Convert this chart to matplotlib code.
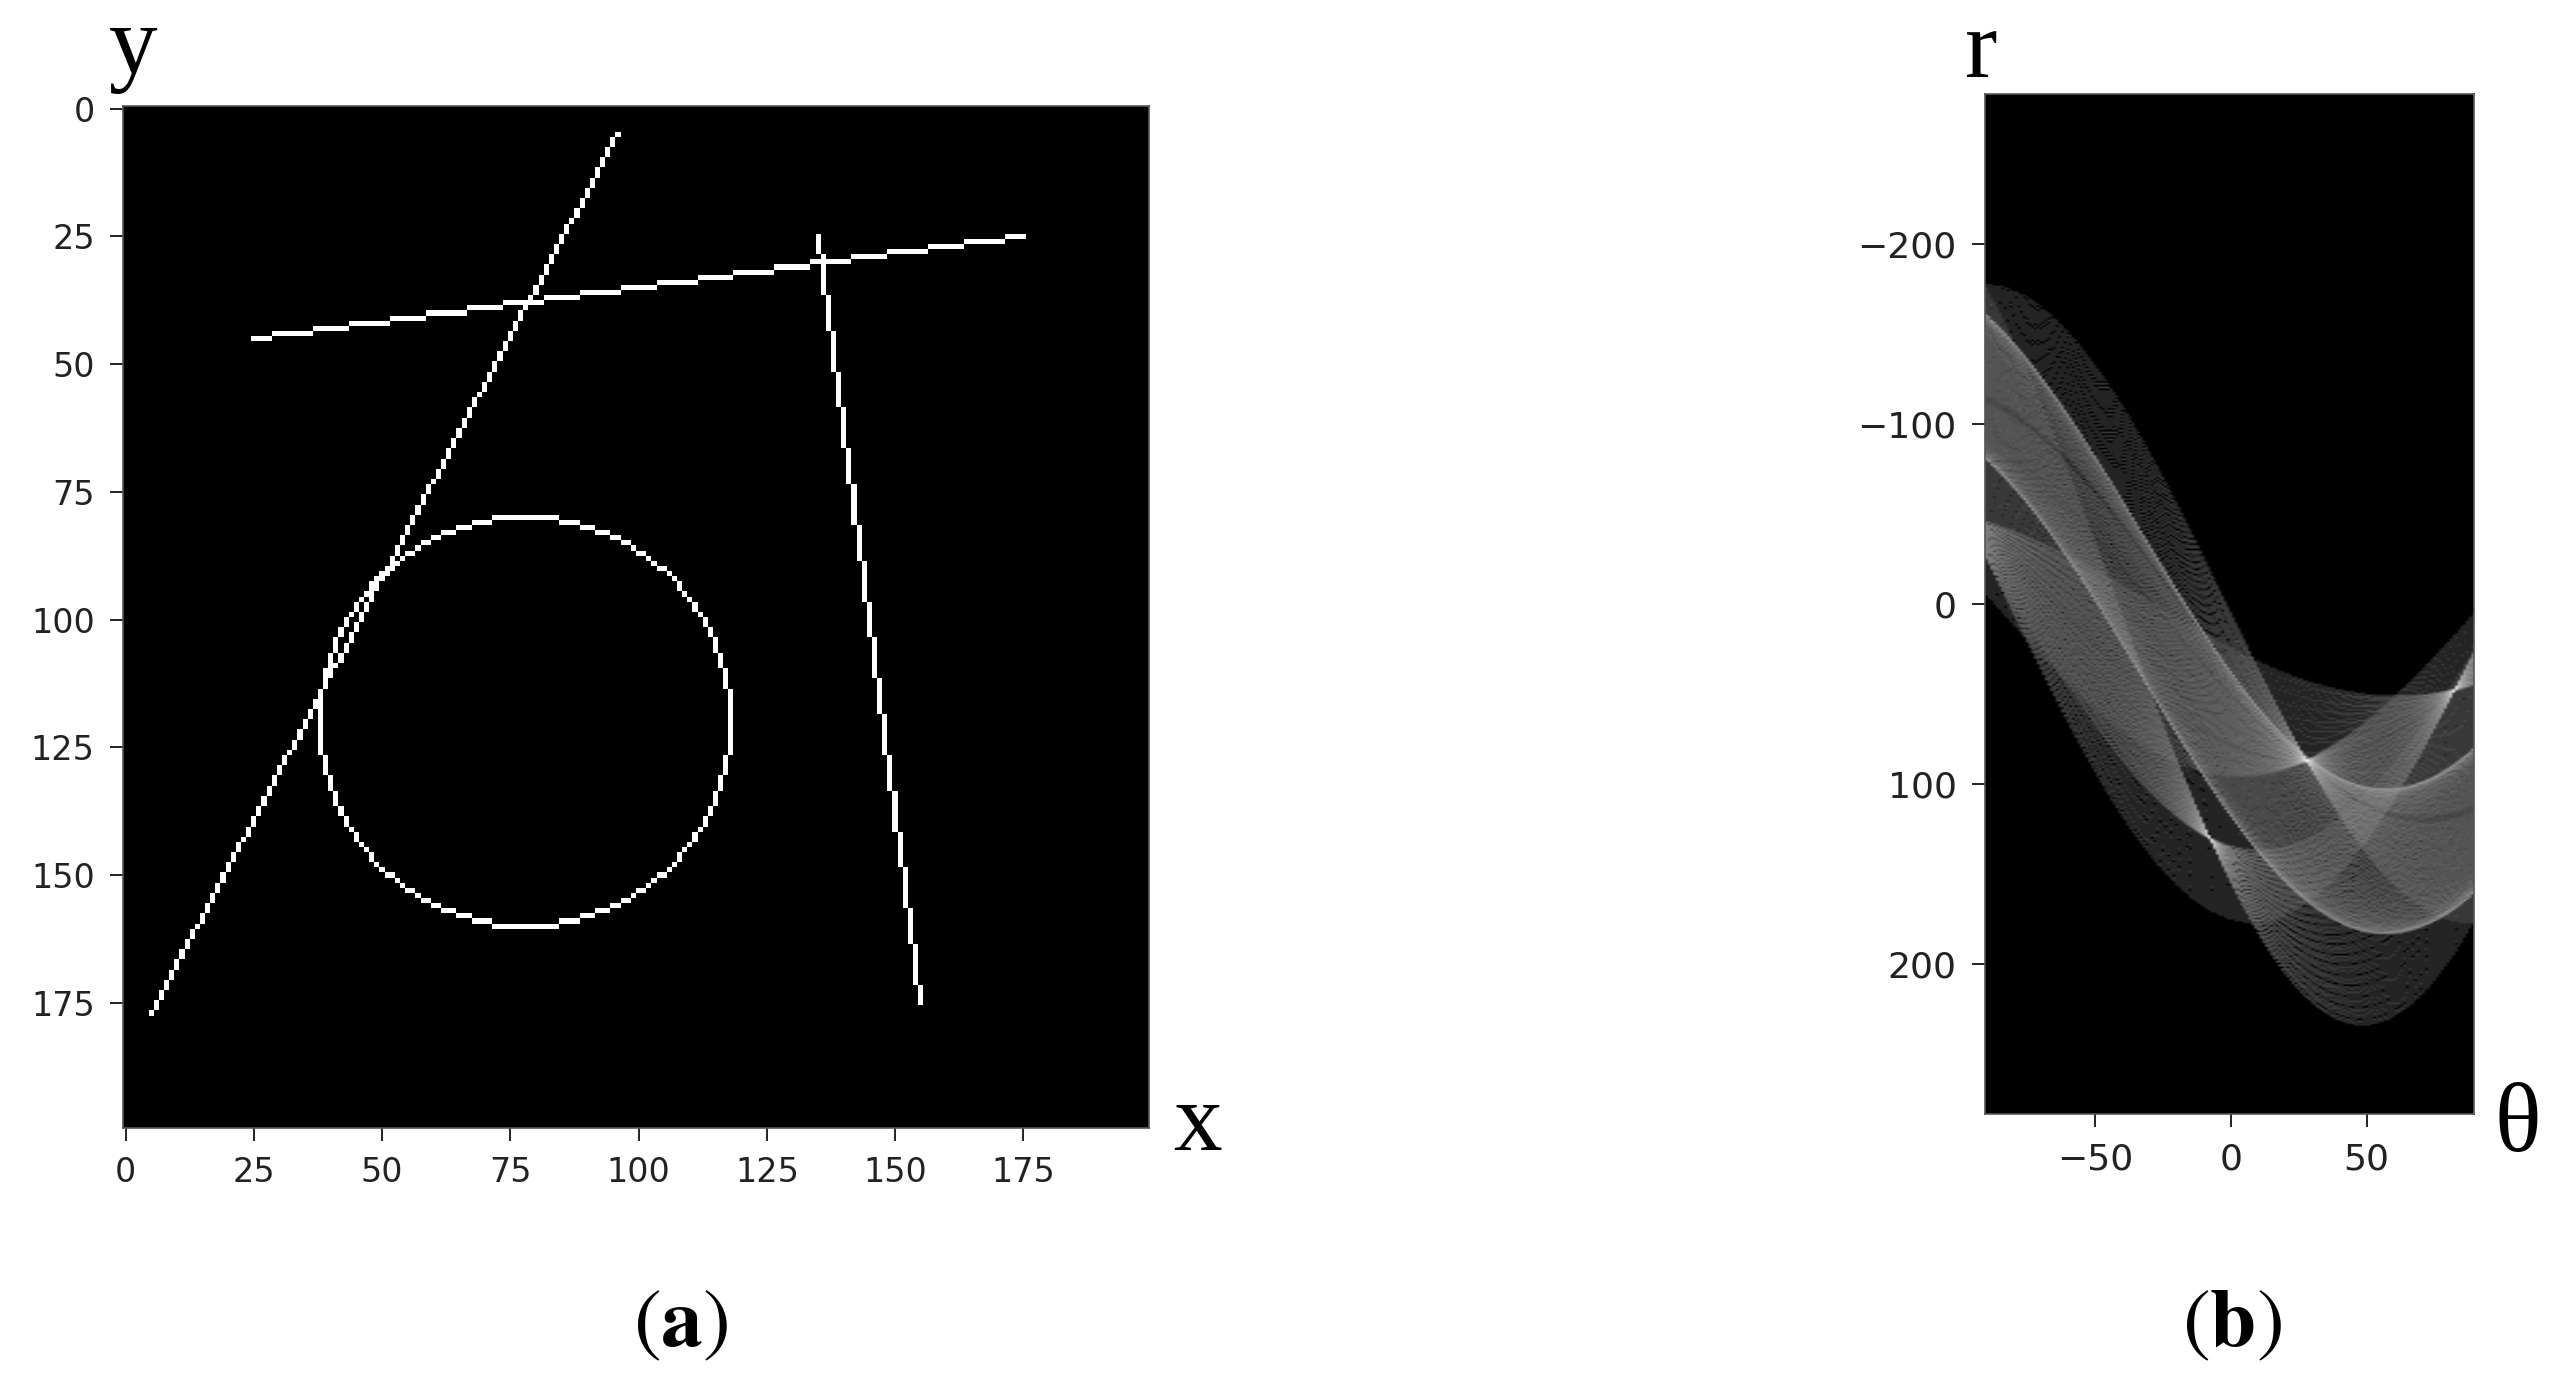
import numpy as np
import matplotlib
matplotlib.use("Agg")
import matplotlib.pyplot as plt

# ---------------- data ----------------
IMG_SIZE = 200
# line segments (row0, col0) -> (row1, col1)
LINE_R0 = [177, 45, 25]
LINE_C0 = [5, 25, 135]
LINE_R1 = [5, 25, 175]
LINE_C1 = [96, 175, 155]
# circle
CIRCLE_ROW = 120
CIRCLE_COL = 78
CIRCLE_RADIUS = 40
# hough angles
N_THETA = 180

XTICKS_A = [0, 25, 50, 75, 100, 125, 150, 175]
YTICKS_A = [0, 25, 50, 75, 100, 125, 150, 175]
XTICKS_B = [-50, 0, 50]
YTICKS_B = [-200, -100, 0, 100, 200]


def bresenham_line(r0, c0, r1, c1):
    steep = False
    r, c = r0, c0
    dr = abs(r1 - r0)
    dc = abs(c1 - c0)
    sr = 1 if r1 - r0 > 0 else -1
    sc = 1 if c1 - c0 > 0 else -1
    if dr > dc:
        steep = True
        c, r = r, c
        dc, dr = dr, dc
        sc, sr = sr, sc
    d = 2 * dr - dc
    rr = np.zeros(dc + 1, int)
    cc = np.zeros(dc + 1, int)
    for i in range(dc):
        if steep:
            rr[i], cc[i] = c, r
        else:
            rr[i], cc[i] = r, c
        while d >= 0:
            r += sr
            d -= 2 * dc
        c += sc
        d += 2 * dr
    rr[dc], cc[dc] = r1, c1
    return rr, cc


def circle_perimeter(r0, c0, radius):
    rr, cc = [], []
    x, y = 0, radius
    d = 3 - 2 * radius
    while y >= x:
        rr.extend([y, -y, y, -y, x, -x, x, -x])
        cc.extend([x, x, -x, -x, y, y, -y, -y])
        if d < 0:
            d += 4 * x + 6
        else:
            d += 4 * (x - y) + 10
            y -= 1
        x += 1
    return np.array(rr) + r0, np.array(cc) + c0


image = np.zeros((IMG_SIZE, IMG_SIZE))
for r0, c0, r1, c1 in zip(LINE_R0, LINE_C0, LINE_R1, LINE_C1):
    rr, cc = bresenham_line(r0, c0, r1, c1)
    image[rr, cc] = 255
rr, cc = circle_perimeter(CIRCLE_ROW, CIRCLE_COL, CIRCLE_RADIUS)
image[rr, cc] = 255

# Hough transform of the image
theta = np.linspace(-np.pi / 2, np.pi / 2, N_THETA, endpoint=False)
offset = int(np.ceil(np.hypot(*image.shape)))
dist = np.linspace(-offset, offset, 2 * offset + 1)
ys, xs = np.nonzero(image)
acc_idx = np.round(np.outer(xs, np.cos(theta)) + np.outer(ys, np.sin(theta))).astype(int) + offset
accum = np.zeros((2 * offset + 1, N_THETA))
np.add.at(accum, (acc_idx, np.broadcast_to(np.arange(N_THETA), acc_idx.shape)), 1)

# ---------------- figure ----------------
plt.rcParams['mathtext.fontset'] = 'stix'
W, H = 2558, 1384
fig = plt.figure(figsize=(W / 100, H / 100), dpi=100)


def rect(l, t, r, b):
    return [l / W, 1 - b / H, (r - l) / W, (b - t) / H]


tick_kw = dict(length=9.4, width=1.4, pad=11, colors='#222222')

ax1 = fig.add_axes(rect(123, 106, 1149, 1128))
ax1.imshow(image, cmap='gray', aspect='auto', interpolation='nearest')
ax1.set_xticks(XTICKS_A)
ax1.set_yticks(YTICKS_A)
ax1.tick_params(labelsize=24, **tick_kw)
for s in ax1.spines.values():
    s.set_linewidth(1.2)
    s.set_color('#555555')

ax2 = fig.add_axes(rect(1985, 94, 2474, 1114))
astep = 0.5 * np.rad2deg(np.diff(theta).mean())
dstep = 0.5 * np.diff(dist).mean()
bounds = [np.rad2deg(theta[0]) - astep, np.rad2deg(theta[-1]) + astep,
          dist[-1] + dstep, dist[0] - dstep]
ax2.imshow(np.log1p(accum), extent=bounds, cmap='gray', aspect='auto',
           interpolation='bilinear')
ax2.set_xticks(XTICKS_B)
ax2.set_yticks(YTICKS_B)
ax2.tick_params(labelsize=26, **tick_kw)
for s in ax2.spines.values():
    s.set_linewidth(1.2)
    s.set_color('#555555')

serif = dict(family='Liberation Serif', fontsize=70, color='black')
fig.text(133 / W, 1 - 73 / H, 'y', ha='center', va='baseline', **serif)
fig.text(1198 / W, 1 - 1150 / H, 'x', ha='center', va='baseline', **serif)
fig.text(1981 / W, 1 - 77 / H, 'r', ha='center', va='baseline', **serif)
fig.text(2518 / W, 1 - 1151 / H, 'θ', ha='center', va='baseline', **serif)

fig.text(681 / W, 1 - 1346 / H, r'$\mathrm{(}\mathbf{a}\mathrm{)}$', ha='center',
         va='baseline', fontsize=60)
fig.text(2232 / W, 1 - 1346 / H, r'$\mathrm{(}\mathbf{b}\mathrm{)}$', ha='center',
         va='baseline', fontsize=60)

fig.savefig('out.png', dpi=100, facecolor='white')
